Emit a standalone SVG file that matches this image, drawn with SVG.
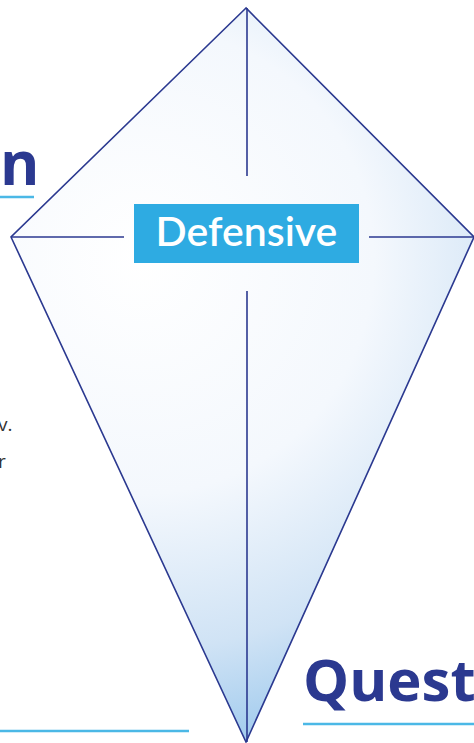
<svg xmlns="http://www.w3.org/2000/svg" width="474" height="743" viewBox="0 0 474 743">
<style>
.edge{stroke:#2b3990;stroke-width:1.6;fill:none}
.big{font-family:"Open Sans","Liberation Sans",sans-serif;font-weight:700;fill:#2b3990}
.body{font-family:"Open Sans","Liberation Sans",sans-serif;font-size:19px;fill:#333}
.rule{stroke:#4bb8e6;stroke-width:2.5}
</style>
<defs>
<radialGradient id="kg" gradientUnits="userSpaceOnUse" cx="140" cy="260" r="520">
<stop offset="0" stop-color="#ffffff"/>
<stop offset="0.45" stop-color="#f4f8fd"/>
<stop offset="0.75" stop-color="#d0e3f5"/>
<stop offset="1" stop-color="#95c5ec"/>
</radialGradient>
</defs>
<g id="kite">
<polygon points="246,8 11,237 246,742 474,237" fill="url(#kg)" stroke="none"/>
<path class="edge" d="M246,8 L11,237 L246,742 L474,237 Z"/>
</g>
<g id="connectors">
<line class="edge" x1="247" y1="8" x2="247" y2="176"/>
<line class="edge" x1="247" y1="291" x2="247" y2="742"/>
<line class="edge" x1="11" y1="237" x2="124" y2="237"/>
<line class="edge" x1="369" y1="237" x2="474" y2="237"/>
</g>
<g id="defensive">
<rect x="134" y="204" width="225" height="59" fill="#2eabe2"/>
<text x="246.5" y="246" text-anchor="middle" font-family="Lato,'Open Sans','Liberation Sans',sans-serif" font-size="41" font-weight="600" fill="#ffffff">Defensive</text>
</g>
<g id="left-title">
<text class="big" x="0" y="185" font-size="60">n</text>
<line class="rule" x1="0" y1="197" x2="34" y2="197"/>
</g>
<g id="left-body">
<text class="body" x="-2" y="431">v.</text>
<text class="body" x="-2" y="468">r</text>
</g>
<g id="question">
<text class="big" x="303" y="701" font-size="58">Quest</text>
<line class="rule" x1="303" y1="724" x2="474" y2="724"/>
</g>
<g id="bottom-rule">
<line class="rule" x1="0" y1="731" x2="189" y2="731"/>
</g>
</svg>
